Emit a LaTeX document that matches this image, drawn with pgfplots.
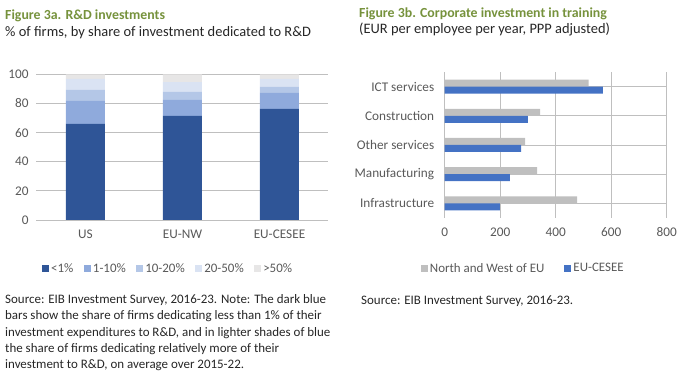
\documentclass[border=0pt]{standalone}
\usepackage{fontspec}
\setmainfont{Carlito}
\usepackage{pgfplots}
\usepackage{pgfplotstable}
\pgfplotsset{compat=1.18}
\definecolor{titlegreen}{HTML}{76923C}
\definecolor{txt}{HTML}{262626}
\definecolor{tick}{HTML}{595959}
\definecolor{grid}{HTML}{D9D9D9}
\definecolor{cA}{HTML}{2F5597}
\definecolor{cB}{HTML}{8FAADC}
\definecolor{cC}{HTML}{B4C7E7}
\definecolor{cD}{HTML}{DAE3F3}
\definecolor{cE}{HTML}{E7E6E6}
\definecolor{nwgrey}{HTML}{BFBFBF}
\definecolor{ceblue}{HTML}{4472C4}
\pgfplotstableread{
x a b c d e
0 66.0 15.8 7.7 7.3 3.2
1 71.4 11.0 5.5 6.8 5.3
2 76.2 11.0 4.3 5.3 3.2
}\rdtable
\pgfplotstableread{
y nw cesee
0 477 199
1 333 235
2 290 275
3 344 300
4 519 570
}\trtable
\newcommand{\subfont}{\fontsize{14.5}{16.7}\selectfont}
\newcommand{\srcfont}{\fontsize{13.0}{16.3}\selectfont}
\newcommand{\ttlfont}{\fontsize{13.9}{16.7}\selectfont\bfseries}
\newcommand{\tickfont}{\fontsize{13.3}{16}\selectfont}
\newcommand{\legfont}{\fontsize{13.0}{16}\selectfont}
\begin{document}
\begin{tikzpicture}
\path[use as bounding box] (0,0) rectangle (684bp,371bp);
% titles
\node[anchor=base west,inner sep=0,text=titlegreen,font=\ttlfont] at (5bp,{371bp-19.3bp}) {Figure 3a. R\&D investments};
\node[anchor=base west,inner sep=0,text=txt,font=\subfont] at (5bp,{371bp-36.7bp}) {\% of firms, by share of investment dedicated to R\&D};
\node[anchor=base west,inner sep=0,text=titlegreen,font=\ttlfont] at (359bp,{371bp-17.3bp}) {Figure 3b. Corporate investment in training};
\node[anchor=base west,inner sep=0,text=txt,font=\subfont] at (359bp,{371bp-33.5bp}) {(EUR per employee per year, PPP adjusted)};
% sources
\node[anchor=base west,inner sep=0,text=txt,align=left,font=\srcfont] at (5bp,{371bp-368.5bp}) {Source: EIB Investment Survey, 2016-23. Note: The dark blue\\bars show the share of firms dedicating less than 1\% of their\\investment expenditures to R\&D, and in lighter shades of blue\\the share of firms dedicating relatively more of their\\investment to R\&D, on average over 2015-22.};
\node[anchor=base west,inner sep=0,text=txt,font=\srcfont] at (361bp,{371bp-305bp}) {Source: EIB Investment Survey, 2016-23.};

\begin{axis}[
  at={(36bp,151bp)}, anchor=south west,
  scale only axis, width=292bp, height=145.7bp,
  ybar stacked, bar width=39bp,
  xmin=-0.51, xmax=2.5, ymin=0, ymax=100,
  xtick=data, xticklabels={US,EU-NW,EU-CESEE},
  ytick={0,20,40,60,80,100},
  axis line style={draw=none},
  major tick length=0pt,
  ymajorgrids, grid style={grid, line width=0.75pt},
  xmajorgrids=false,
  tick label style={text=tick, font=\tickfont},
  /pgf/number format/assume math mode=true,
  yticklabel style={xshift=-4bp},
  xticklabel style={yshift=-6bp},
  legend columns=5,
  legend style={draw=none, fill=none, at={(axis description cs:0.0205,-0.333)}, anchor=west,
    font=\legfont, text=tick, inner sep=0pt,
    /tikz/every odd column/.append style={column sep=0pt},
    /tikz/every even column/.append style={column sep=8.5bp}},
  legend image code/.code={\fill[#1] (0bp,-3.5bp) rectangle (7bp,3.5bp);},
]
\addplot[fill=cA, draw=none] table[x=x,y=a] {\rdtable};
\addplot[fill=cB, draw=none] table[x=x,y=b] {\rdtable};
\addplot[fill=cC, draw=none] table[x=x,y=c] {\rdtable};
\addplot[fill=cD, draw=none] table[x=x,y=d] {\rdtable};
\addplot[fill=cE, draw=none] table[x=x,y=e] {\rdtable};
\legend{<1\%,1-10\%,10-20\%,20-50\%,>50\%}
\end{axis}

\begin{axis}[
  at={(444.7bp,153bp)}, anchor=south west,
  scale only axis, width=222bp, height=146bp,
  xbar, bar width=7bp,
  xmin=0, xmax=800, ymin=-0.5, ymax=4.5,
  xtick={0,200,400,600,800},
  ytick={0,1,2,3,4},
  yticklabels={Infrastructure,Manufacturing,Other services,Construction,ICT services},
  axis line style={draw=none},
  major tick length=0pt,
  xmajorgrids, grid style={grid, line width=0.75pt},
  tick label style={text=tick, font=\tickfont},
  /pgf/number format/assume math mode=true,
  yticklabel style={xshift=-7bp},
  xticklabel style={yshift=-6bp},
  legend columns=2,
  legend style={draw=none, fill=none, at={(axis description cs:-0.108,-0.346)}, anchor=west,
    font=\legfont, text=tick, inner sep=0pt,
    /tikz/every odd column/.append style={column sep=0pt},
    /tikz/every even column/.append style={column sep=18bp}},
  legend image code/.code={\fill[#1] (0bp,-3.5bp) rectangle (7bp,3.5bp);},
]
\addplot[fill=nwgrey, draw=none, bar shift=3.5bp] table[x=nw,y=y] {\trtable};
\addplot[fill=ceblue, draw=none, bar shift=-3.5bp] table[x=cesee,y=y] {\trtable};
\legend{North and West of EU,EU-CESEE}
\end{axis}
\end{tikzpicture}
\end{document}
